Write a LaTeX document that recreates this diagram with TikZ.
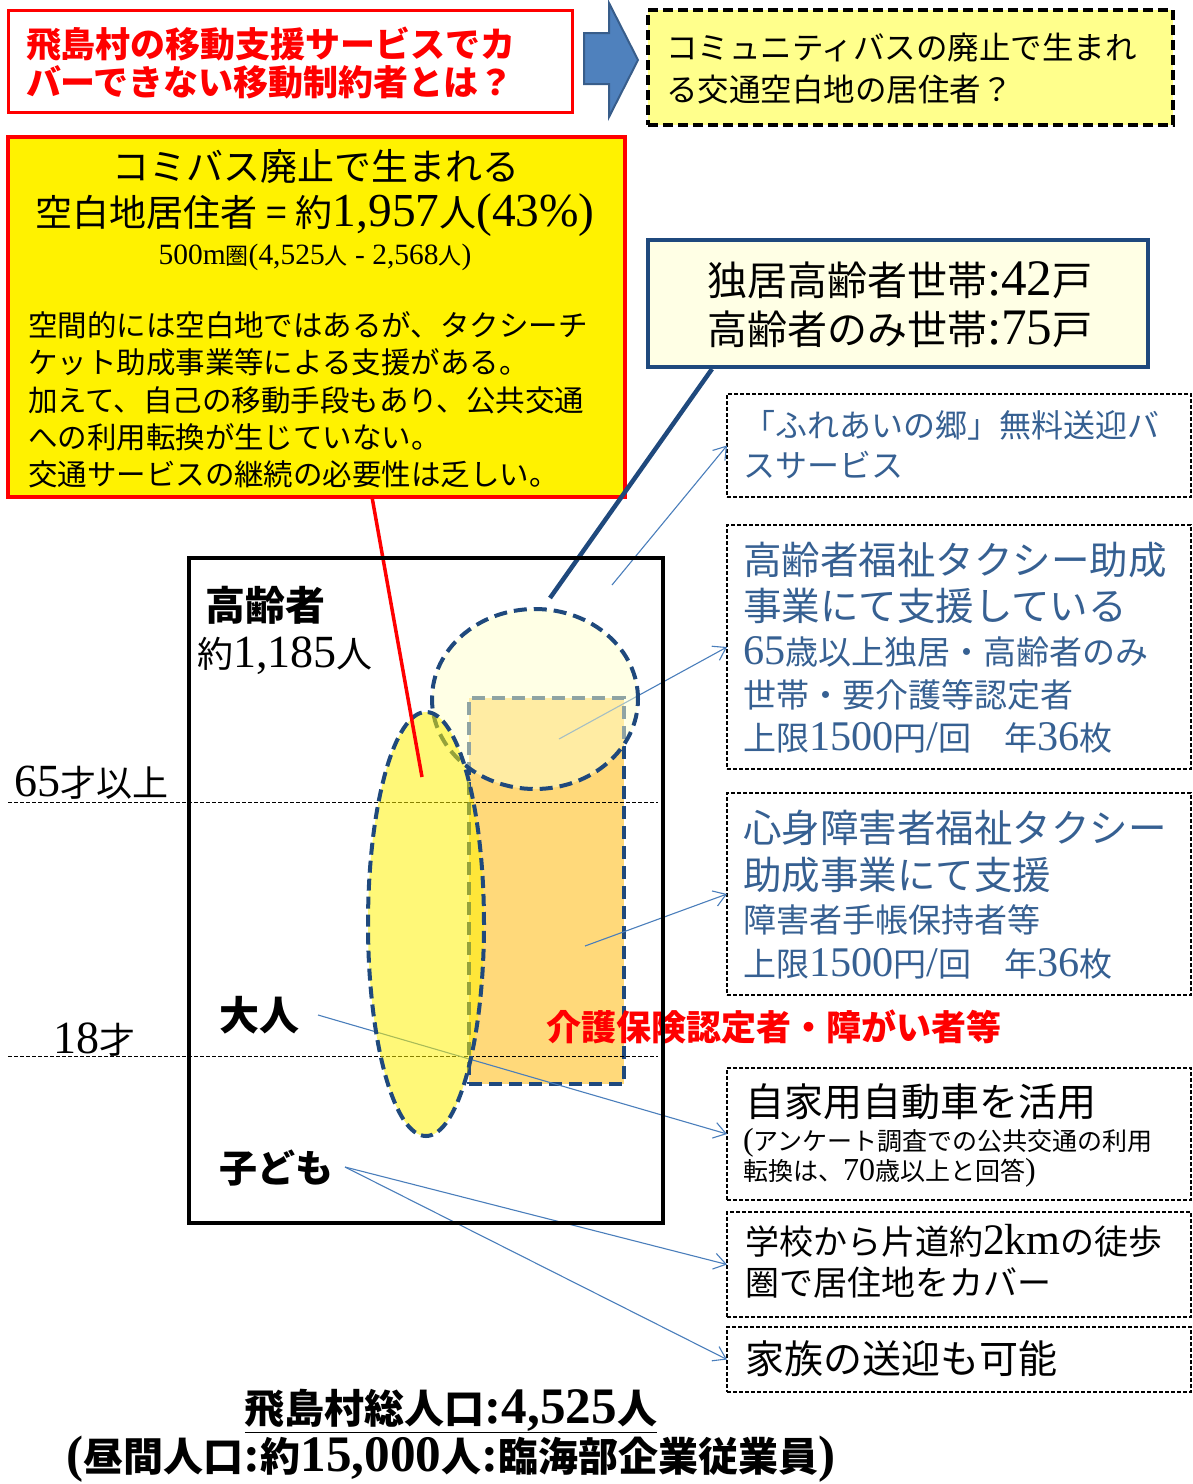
\documentclass[tikz,border=0pt]{standalone}
\usepackage{fontspec}
\setmainfont{Noto Sans CJK JP}
\newfontfamily\nm{Liberation Serif}[Scale=1.28]
\usetikzlibrary{arrows.meta,shapes.geometric}
\newcommand\FS[1]{\fontsize{#1}{#1}\selectfont}
\newcommand\Dg[1]{{\nm #1}}
\definecolor{dblue}{RGB}{31,73,125}
\definecolor{tblue}{RGB}{54,96,146}
\definecolor{lblue}{RGB}{74,126,187}
\definecolor{arrfill}{RGB}{79,129,189}
\definecolor{arrdraw}{RGB}{56,93,138}
\definecolor{paleyel}{RGB}{255,255,140}
\definecolor{cream}{RGB}{255,255,229}
\definecolor{gold}{RGB}{255,217,122}
\definecolor{circfill}{RGB}{255,255,204}
\begin{document}
\begin{tikzpicture}[x=1pt,y=-1pt,
  txt/.style={inner sep=0pt, outer sep=0pt, anchor=west},
  ctxt/.style={inner sep=0pt, outer sep=0pt, anchor=center},
  boxnw/.style={anchor=north west, inner sep=0pt, outer sep=0pt},
  thinbox/.style={boxnw, draw=black, line width=1.1pt, dash pattern=on 4pt off 2pt, fill=white},
  bdash/.style={draw=dblue, line width=4pt, dash pattern=on 13pt off 7pt},
  conn/.style={draw=lblue, line width=1.1pt, -{Straight Barb[length=12pt,width=16pt]}},
  agedash/.style={draw=black, line width=0.9pt, dash pattern=on 4pt off 2pt},
]
\useasboundingbox (0,0) rectangle (1193,1484);

% ---------- top row ----------
\node[boxnw, draw=red, line width=3pt, fill=white, minimum width=564pt, minimum height=102pt] (qbox) at (8,10) {};
\node[txt, text=red, font=\FS{35}\bfseries] (q1) at (26,44) {飛島村の移動支援サービスでカ};
\node[txt, text=red, font=\FS{35}\bfseries] (q2) at (26,82) {バーできない移動制約者とは？};

\draw[fill=arrfill, draw=arrdraw, line width=2pt, line join=miter]
  (584,33) -- (609,33) -- (609,3) -- (638,60) -- (609,117) -- (609,84) -- (584,84) -- cycle;

\node[boxnw, draw=black, fill=paleyel, line width=4pt, dash pattern=on 10pt off 5pt, minimum width=525pt, minimum height=115pt] (abox) at (648,10) {};
\node[txt, font=\FS{31.5}] (a1) at (666,48) {コミュニティバスの廃止で生まれ};
\node[txt, font=\FS{31.5}] (a2) at (666,90) {る交通空白地の居住者？};

% ---------- yellow box ----------
\node[boxnw, draw=red, line width=4pt, fill=yellow, minimum width=617pt, minimum height=360pt] (ybox) at (8,137) {};
\node[ctxt, font=\FS{37}] (y1) at (316,167) {コミバス廃止で生まれる};
\node[ctxt, font=\FS{37}] (y2) at (315,215) {空白地居住者\kern9pt=\kern9pt約\Dg{1,957}人\Dg{(43\%)}};
\node[ctxt, font=\FS{23}] (y3) at (315,257) {\Dg{500m}圏\Dg{(4,525}人\Dg{ - 2,568}人\Dg{)}};
\node[txt, font=\FS{29.5}] (y4) at (28,325) {空間的には空白地ではあるが、タクシーチ};
\node[txt, font=\FS{29.5}] (y5) at (28,362) {ケット助成事業等による支援がある。};
\node[txt, font=\FS{29.5}] (y6) at (28,400) {加えて、自己の移動手段もあり、公共交通};
\node[txt, font=\FS{29.5}] (y7) at (28,437) {への利用転換が生じていない。};
\node[txt, font=\FS{29.5}] (y8) at (28,474) {交通サービスの継続の必要性は乏しい。};

% ---------- household box ----------
\node[boxnw, draw=dblue, line width=4pt, fill=cream, minimum width=500pt, minimum height=127pt] (hbox) at (648,240) {};
\node[txt, font=\FS{40}] (h1) at (707,280) {独居高齢者世帯\Dg{:42}戸};
\node[txt, font=\FS{40}] (h2) at (707,329) {高齢者のみ世帯\Dg{:75}戸};

% ---------- right boxes ----------
\node[thinbox, minimum width=464pt, minimum height=103pt] (boxA) at (727,394) {};
\node[txt, text=tblue, font=\FS{32}] (A1) at (743,425) {「ふれあいの郷」無料送迎バ};
\node[txt, text=tblue, font=\FS{32}] (A2) at (743,465) {スサービス};

\node[thinbox, minimum width=464pt, minimum height=244pt] (boxB) at (727,525) {};
\node[txt, text=tblue, font=\FS{38.5}] (B1) at (743,560) {高齢者福祉タクシー助成};
\node[txt, text=tblue, font=\FS{38.5}] (B2) at (743,606) {事業にて支援している};
\node[txt, text=tblue, font=\FS{33}] (B3) at (743,652) {\Dg{65}歳以上独居・高齢者のみ};
\node[txt, text=tblue, font=\FS{33}] (B4) at (743,695) {世帯・要介護等認定者};
\node[txt, text=tblue, font=\FS{33}] (B5) at (743,738) {上限\Dg{1500}円\Dg{/}回　年\Dg{36}枚};

\node[thinbox, minimum width=464pt, minimum height=202pt] (boxC) at (727,793) {};
\node[txt, text=tblue, font=\FS{38.5}] (C1) at (743,828) {心身障害者福祉タクシー};
\node[txt, text=tblue, font=\FS{38.5}] (C2) at (743,875) {助成事業にて支援};
\node[txt, text=tblue, font=\FS{33}] (C3) at (743,920) {障害者手帳保持者等};
\node[txt, text=tblue, font=\FS{33}] (C4) at (743,964) {上限\Dg{1500}円\Dg{/}回　年\Dg{36}枚};

\node[thinbox, minimum width=464pt, minimum height=132pt] (boxD) at (727,1068) {};
\node[txt, font=\FS{39}] (D1) at (745,1102) {自家用自動車を活用};
\node[txt, font=\FS{25}] (D2) at (743,1143) {\Dg{(}アンケート調査での公共交通の利用};
\node[txt, font=\FS{25}] (D3) at (743,1173) {転換は、\Dg{70}歳以上と回答\Dg{)}};

\node[thinbox, minimum width=464pt, minimum height=105pt] (boxE) at (727,1212) {};
\node[txt, font=\FS{34}] (E1) at (745,1241) {学校から片道約\Dg{2km}の徒歩};
\node[txt, font=\FS{34}] (E2) at (745,1283) {圏で居住地をカバー};

\node[thinbox, minimum width=464pt, minimum height=65pt] (boxF) at (727,1327) {};
\node[txt, font=\FS{39}] (F1) at (745,1359) {家族の送迎も可能};

% ---------- population chart ----------
\node[boxnw, minimum width=155pt, minimum height=386pt, fill=gold, bdash] (goldr) at (469,698) {};

\coordinate (d65a) at (8,802);  \coordinate (d65b) at (658,802);
\coordinate (d18a) at (8,1056); \coordinate (d18b) at (658,1056);
\draw[agedash] (d65a) -- (d65b);
\draw[agedash] (d18a) -- (d18b);
\node[txt, font=\FS{36}] (l65) at (14,783) {\Dg{65}才以上};
\node[txt, font=\FS{36}] (l18) at (53,1040) {\Dg{18}才};

\node[txt, font=\FS{40}\bfseries] (old) at (205,605) {高齢者};
\node[txt, font=\FS{36}] (oldn) at (197,656) {約\Dg{1,185}人};
\node[txt, font=\FS{40}\bfseries] (adult) at (219,1015) {大人};
\node[txt, font=\FS{38}\bfseries] (child) at (219,1168) {子ども};

\coordinate (sA) at (612,585);
\coordinate (sB) at (559,739);
\coordinate (sC) at (585,946);
\coordinate (sD) at (318,1015);
\coordinate (sE) at (345,1167);
\draw[conn] (sA) -- (boxA.west);
\draw[conn] (sB) -- (boxB.west);
\draw[conn] (sC) -- (boxC.west);
\draw[conn] (sD) -- (boxD.west);
\draw[conn] (sE) -- (boxE.west);
\draw[conn] (sE) -- (boxF.west);

\node[ellipse, inner sep=0pt, minimum width=206pt, minimum height=180pt, fill=circfill, fill opacity=0.5, draw opacity=1, bdash] (circ) at (535,699) {};
\node[ellipse, inner sep=0pt, minimum width=116pt, minimum height=424pt, fill=yellow, fill opacity=0.53, draw opacity=1, bdash, dash pattern=on 12pt off 6pt] (tall) at (426,924) {};

\coordinate (rS) at (372,497);
\coordinate (rE) at (422,777);
\draw[red, line width=3.5pt] (rS) -- (rE);
\coordinate (bS) at (712,369);
\coordinate (bE) at (550,598);
\draw[dblue, line width=4.5pt] (bS) -- (bE);

\node[ctxt, text=red, font=\FS{35}\bfseries] (care) at (774,1027) {介護保険認定者・障がい者等};

\node[boxnw, draw=black, line width=4pt, minimum width=474pt, minimum height=665pt] (frame) at (189,558) {};

% ---------- bottom ----------
\node[ctxt, font=\FS{40}\bfseries] (tot) at (451,1411) {\underline{飛島村総人口\Dg{:4,525}人}};
\node[ctxt, font=\FS{40}\bfseries] (day) at (451,1459) {\Dg{(}昼間人口\Dg{:}約\Dg{15,000}人\Dg{:}臨海部企業従業員\Dg{)}};
\end{tikzpicture}
\end{document}
